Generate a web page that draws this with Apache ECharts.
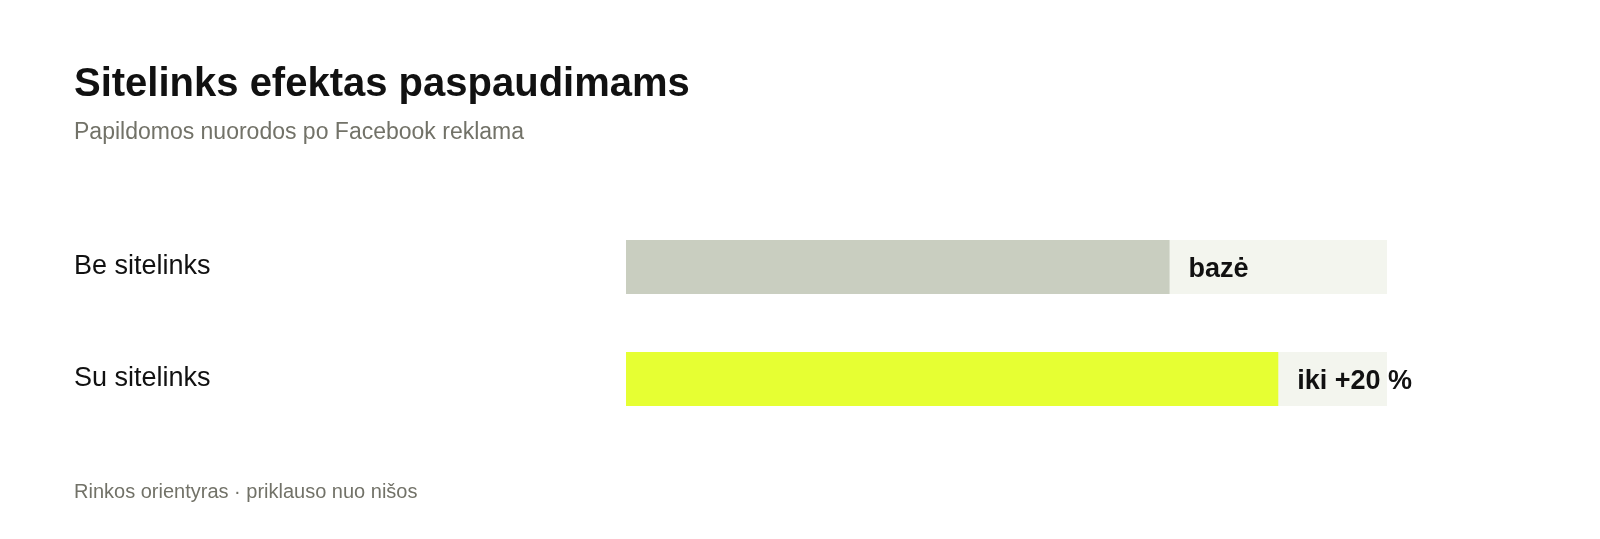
<!DOCTYPE html>
<html>
<head>
<meta charset="utf-8">
<script src="https://cdn.jsdelivr.net/npm/echarts@6/dist/echarts.min.js"></script>
<style>
html, body { margin: 0; padding: 0; background: #fff; }
#main { width: 1600px; height: 539px; }
</style>
</head>
<body>
<div id="main"></div>
<script>
// duomenys
var categories = ['Be sitelinks', 'Su sitelinks'];
var values = [100, 120];
var valueLabels = ['bazė', 'iki +20 %'];
var barColors = ['#c9cec0', '#e6ff33'];
var axisMax = 140;

var font = '"Liberation Sans", Arial, Helvetica, sans-serif';

var option = {
    backgroundColor: '#ffffff',
    animation: false,
    title: [{
        text: 'Sitelinks efektas paspaudimams',
        left: 74,
        top: 65,
        padding: 0,
        textStyle: { fontFamily: font, fontSize: 40, fontWeight: 'bold', color: '#111111' }
    }, {
        text: 'Papildomos nuorodos po Facebook reklama',
        left: 74,
        top: 121,
        padding: 0,
        textStyle: { fontFamily: font, fontSize: 23, fontWeight: 'normal', color: '#727268' }
    }, {
        text: 'Rinkos orientyras · priklauso nuo nišos',
        left: 74,
        top: 482,
        padding: 0,
        textStyle: { fontFamily: font, fontSize: 20, fontWeight: 'normal', color: '#727268' }
    }],
    grid: {
        left: 626,
        right: 213,
        top: 211,
        height: 224,
        containLabel: false
    },
    xAxis: {
        type: 'value',
        min: 0,
        max: axisMax,
        show: false
    },
    yAxis: {
        type: 'category',
        inverse: true,
        data: categories,
        axisLine: { show: false },
        axisTick: { show: false },
        splitLine: { show: false },
        axisLabel: {
            align: 'left',
            margin: 552,
            padding: [0, 0, 4, 0],
            fontFamily: font,
            fontSize: 27,
            color: '#111111'
        }
    },
    series: [{
        type: 'bar',
        barWidth: 54,
        showBackground: true,
        backgroundStyle: { color: '#f3f5ee' },
        data: values.map(function (v, i) {
            return { value: v, itemStyle: { color: barColors[i] } };
        }),
        label: {
            show: true,
            position: 'right',
            distance: 19,
            offset: [0, 3],
            fontFamily: font,
            fontSize: 27,
            fontWeight: 'bold',
            color: '#111111',
            formatter: function (p) { return valueLabels[p.dataIndex]; }
        }
    }]
};

var myChart = echarts.init(document.getElementById('main'));
myChart.setOption(option);
</script>
</body>
</html>
